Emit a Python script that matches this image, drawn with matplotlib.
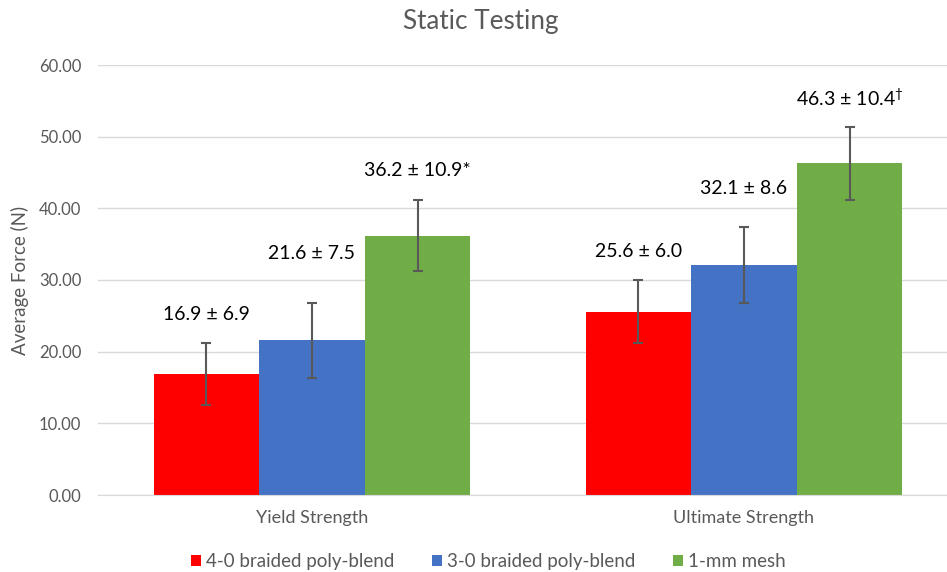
import numpy as np
import matplotlib
matplotlib.use('Agg')
import matplotlib.pyplot as plt

plt.rcParams['font.family'] = ['Lato', 'DejaVu Sans']
plt.rcParams['mathtext.fontset'] = 'custom'
plt.rcParams['mathtext.rm'] = 'Lato'

# Data
categories = ['Yield Strength', 'Ultimate Strength']
series_names = ['4-0 braided poly-blend', '3-0 braided poly-blend', '1-mm mesh']
means = [
    [16.9, 25.6],   # 4-0 braided poly-blend
    [21.6, 32.1],   # 3-0 braided poly-blend
    [36.2, 46.3],   # 1-mm mesh
]
# error bars as drawn (half-lengths)
errors = [
    [4.35, 4.35],
    [5.25, 5.25],
    [5.0, 5.1],
]
labels = [
    ['16.9 ± 6.9', '25.6 ± 6.0'],
    ['21.6 ± 7.5', '32.1 ± 8.6'],
    ['36.2 ± 10.9*', '46.3 ± 10.4$^{†}$'],
]
colors = ['#FF0000', '#4472C4', '#70AD47']
label_pad = [[14, 15], [29, 22], [15, 13]]  # points above error bar

fig = plt.figure(figsize=(9.47, 5.72), dpi=100)
ax = fig.add_axes([98 / 947, 77 / 572, 849 / 947, 430 / 572])

x = np.arange(len(categories))
width = 0.2444
grey = '#595959'

for i, name in enumerate(series_names):
    pos = x + (i - 1) * width
    ax.bar(pos, means[i], width, color=colors[i], label=name, zorder=2)
    ax.errorbar(pos, means[i], yerr=errors[i], fmt='none', ecolor=grey,
                elinewidth=1.5, capsize=3.5, capthick=1.5, zorder=3)
    for j in range(len(categories)):
        ax.annotate(labels[i][j], (pos[j], means[i][j] + errors[i][j]),
                    xytext=(0, label_pad[i][j]), textcoords='offset points',
                    ha='center', va='bottom', fontsize=14, color='black')

ax.set_xlim(-0.4954, 1.47)
ax.set_ylim(0, 60)
ax.set_yticks(np.arange(0, 61, 10))
ax.set_yticklabels([f'{v:.2f}' for v in np.arange(0, 61, 10)])
ax.set_xticks(x)
ax.set_xticklabels(categories, fontsize=13)
ax.tick_params(axis='both', length=0, labelcolor=grey)
ax.tick_params(axis='y', pad=12, labelsize=12)
ax.tick_params(axis='x', pad=11)
ax.grid(axis='y', color='#D9D9D9', linewidth=1, zorder=0)
ax.set_axisbelow(True)
for s in ['top', 'right', 'left']:
    ax.spines[s].set_visible(False)
ax.spines['bottom'].set_color('#D9D9D9')
ax.set_ylabel('Average Force (N)', fontsize=13.5, color=grey, labelpad=7)

fig.text(0.508, 1 - 21 / 572, 'Static Testing', ha='center', va='center',
         fontsize=18.8, color=grey)

fig.legend(loc='center', bbox_to_anchor=(0.516, 0.018), ncol=3, frameon=False,
           fontsize=13.5, handlelength=0.53, handleheight=0.53, handletextpad=0.27,
           columnspacing=2.0, labelcolor=grey)

fig.savefig('out.png', dpi=100)
